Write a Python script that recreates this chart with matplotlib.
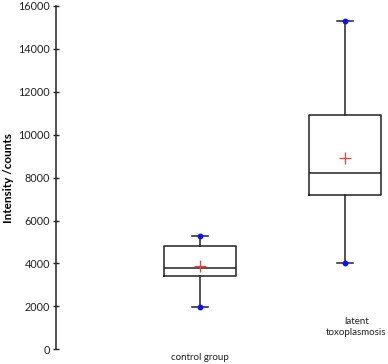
import matplotlib
matplotlib.use("Agg")
import matplotlib.pyplot as plt

groups = ["control group", "latent\ntoxoplasmosis"]
mins = [1960, 4020]
q1s = [3400, 7190]
medians = [3800, 8220]
q3s = [4830, 10940]
maxs = [5300, 15300]
means = [3900, 8920]
yticks = [0, 2000, 4000, 6000, 8000, 10000, 12000, 14000, 16000]

plt.rcParams['font.family'] = ['Lato', 'DejaVu Sans']

W, H = 388, 364
fig = plt.figure(figsize=(W / 100, H / 100), dpi=100)
ax = fig.add_axes([56 / W, 1 - 349.3 / H, (388 - 56) / W, (349.3 - 6) / H])

stats = []
for i in range(len(groups)):
    stats.append(dict(med=medians[i], q1=q1s[i], q3=q3s[i], whislo=mins[i],
                      whishi=maxs[i], mean=means[i], fliers=[], label=groups[i]))

positions = list(range(1, len(groups) + 1))
lc = '#222222'
ax.bxp(stats, positions=positions, widths=0.5, showmeans=True, showfliers=False,
       boxprops=dict(color=lc, linewidth=1.1),
       medianprops=dict(color=lc, linewidth=1.1),
       whiskerprops=dict(color=lc, linewidth=1.1),
       capprops=dict(color=lc, linewidth=1.1),
       capwidths=0.11,
       meanprops=dict(marker='+', markeredgecolor='#ff3a3a', markersize=8, markeredgewidth=0.9))

ax.plot(positions, mins, linestyle='none', marker='o', color='#1010ee', markersize=3.2, zorder=5)
ax.plot(positions, maxs, linestyle='none', marker='o', color='#1010ee', markersize=3.2, zorder=5)

ax.set_xlim(0, 2.3)
ax.set_ylim(0, 16000)
ax.set_yticks(yticks)
ax.set_yticklabels([str(t) for t in yticks], fontsize=7.8, color='#222222')
ax.tick_params(axis='y', direction='inout', length=4.5, width=1, color=lc, pad=2)
ax.set_xticks([])
for s in ['top', 'right', 'bottom']:
    ax.spines[s].set_visible(False)
ax.spines['left'].set_color(lc)
ax.spines['left'].set_linewidth(1.1)

ax.set_ylabel("Intensity /counts", fontsize=8.5, fontweight='bold')
ax.yaxis.set_label_coords(-0.128, 0.5)

trans = ax.get_xaxis_transform()
ax.text(1, -0.012, groups[0], transform=trans, ha='center', va='top', fontsize=7, color='#222222')
ax.text(2.08, 0.095, groups[1], transform=trans, ha='center', va='top', fontsize=7,
        color='#222222', linespacing=1.4)

fig.savefig("out.png", dpi=100)
